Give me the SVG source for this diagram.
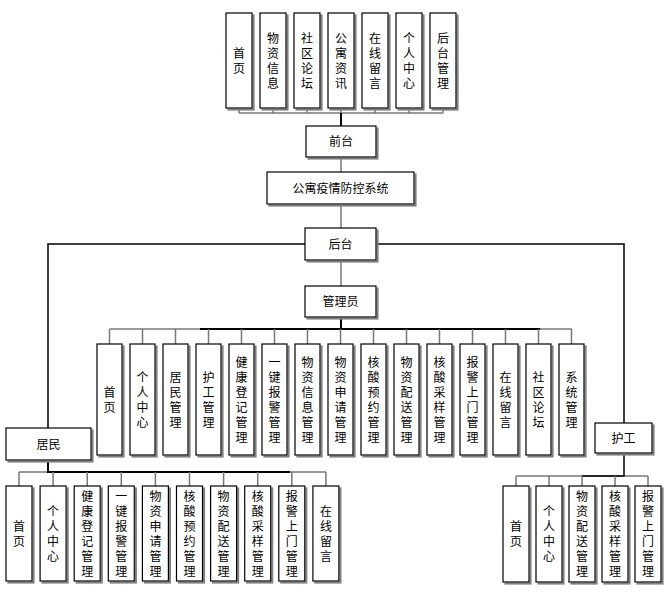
<svg xmlns="http://www.w3.org/2000/svg" width="672" height="593" viewBox="0 0 672 593">
<style>
.box{fill:#fff;stroke:#000;stroke-width:1.2;filter:url(#sh)}
.t{font-family:"Noto Sans CJK SC","Liberation Sans",sans-serif;font-size:12px;fill:#000;text-anchor:middle}
.v{font-family:"Noto Sans CJK SC","Liberation Sans",sans-serif;font-size:12px;fill:#000;text-anchor:middle;writing-mode:vertical-rl;letter-spacing:3px}
.g{stroke:#777;stroke-width:1.5;fill:none}
.k{stroke:#000;stroke-width:2;fill:none}
</style>
<defs>
<filter id="sh" x="-20%" y="-20%" width="150%" height="150%"><feDropShadow dx="2" dy="2" stdDeviation="0" flood-color="#808080"/></filter>
<marker id="ar" viewBox="0 0 10 10" refX="5" refY="1" markerWidth="6" markerHeight="6" orient="auto-start-reverse" markerUnits="userSpaceOnUse"><path d="M1 7 L5 1 L9 7" fill="none" stroke="#666" stroke-width="1.5"/></marker>
</defs>
<rect width="672" height="593" fill="#fff"/>
<g id="connectors">
<path class="g" d="M239 113H443"/>
<path class="k" d="M341 126V113"/>
<path class="g" marker-end="url(#ar)" d="M239 113V108"/>
<path class="g" marker-end="url(#ar)" d="M273 113V108"/>
<path class="g" marker-end="url(#ar)" d="M307 113V108"/>
<path class="g" marker-end="url(#ar)" d="M341 113V108"/>
<path class="g" marker-end="url(#ar)" d="M375 113V108"/>
<path class="g" marker-end="url(#ar)" d="M409 113V108"/>
<path class="g" marker-end="url(#ar)" d="M443 113V108"/>
<path class="g" d="M341 157V172M341 204V228M341 260V286"/>
<path class="k" style="stroke-width:1.5" d="M305 244H48V428M376 244H624V423"/>
<path class="g" d="M109.5 329H571.5"/>
<path class="k" d="M341 317V329M200 329H540"/>
<path class="g" d="M109.5 329V344M142.5 329V344M175.5 329V344M208.5 329V344M241.5 329V344M274.5 329V344M307.5 329V344M340.5 329V344M373.5 329V344M406.5 329V344M439.5 329V344M472.5 329V344M505.5 329V344M538.5 329V344M571.5 329V344"/>
<path class="g" d="M19 472H326"/>
<path class="k" d="M48 460V472H290"/>
<path class="g" d="M19 472V486M53.1 472V486M87.2 472V486M121.3 472V486M155.4 472V486M189.5 472V486M223.6 472V486M257.7 472V486M291.8 472V486M325.9 472V486"/>
<path class="g" d="M516 476H648"/>
<path class="k" style="stroke-width:1.5" d="M624 453V476H582"/>
<path class="g" d="M516 476V486M549 476V486M582 476V486M615 476V486M648 476V486"/>
</g>
<g id="n_shouye"><rect class="box" x="226" y="13" width="26" height="95"/><text class="v" x="239" y="62">首页</text></g>
<g id="n_wuzixinxi"><rect class="box" x="260" y="13" width="26" height="95"/><text class="v" x="273" y="62">物资信息</text></g>
<g id="n_shequluntan"><rect class="box" x="294" y="13" width="26" height="95"/><text class="v" x="307" y="62">社区论坛</text></g>
<g id="n_gongyuzixun"><rect class="box" x="328" y="13" width="26" height="95"/><text class="v" x="341" y="62">公寓资讯</text></g>
<g id="n_zaixianliuyan"><rect class="box" x="362" y="13" width="26" height="95"/><text class="v" x="375" y="62">在线留言</text></g>
<g id="n_gerenzhongxin"><rect class="box" x="396" y="13" width="26" height="95"/><text class="v" x="409" y="62">个人中心</text></g>
<g id="n_houtaiguanli"><rect class="box" x="430" y="13" width="26" height="95"/><text class="v" x="443" y="62">后台管理</text></g>
<g id="n_qiantai"><rect class="box" x="306" y="126" width="70" height="31"/><text class="t" x="341" y="146">前台</text></g>
<g id="n_system"><rect class="box" x="267" y="172" width="147" height="32"/><text class="t" x="340.5" y="192.5">公寓疫情防控系统</text></g>
<g id="n_houtai"><rect class="box" x="305" y="228" width="71" height="32"/><text class="t" x="340.5" y="248.5">后台</text></g>
<g id="n_admin"><rect class="box" x="305" y="286" width="71" height="31"/><text class="t" x="340.5" y="306">管理员</text></g>
<g id="a1"><rect class="box" x="97" y="344" width="25" height="111"/><text class="v" x="109.5" y="401">首页</text></g>
<g id="a2"><rect class="box" x="130" y="344" width="25" height="111"/><text class="v" x="142.5" y="401">个人中心</text></g>
<g id="a3"><rect class="box" x="163" y="344" width="25" height="111"/><text class="v" x="175.5" y="401">居民管理</text></g>
<g id="a4"><rect class="box" x="196" y="344" width="25" height="111"/><text class="v" x="208.5" y="401">护工管理</text></g>
<g id="a5"><rect class="box" x="229" y="344" width="25" height="111"/><text class="v" x="241.5" y="401">健康登记管理</text></g>
<g id="a6"><rect class="box" x="262" y="344" width="25" height="111"/><text class="v" x="274.5" y="401">一键报警管理</text></g>
<g id="a7"><rect class="box" x="295" y="344" width="25" height="111"/><text class="v" x="307.5" y="401">物资信息管理</text></g>
<g id="a8"><rect class="box" x="328" y="344" width="25" height="111"/><text class="v" x="340.5" y="401">物资申请管理</text></g>
<g id="a9"><rect class="box" x="361" y="344" width="25" height="111"/><text class="v" x="373.5" y="401">核酸预约管理</text></g>
<g id="a10"><rect class="box" x="394" y="344" width="25" height="111"/><text class="v" x="406.5" y="401">物资配送管理</text></g>
<g id="a11"><rect class="box" x="427" y="344" width="25" height="111"/><text class="v" x="439.5" y="401">核酸采样管理</text></g>
<g id="a12"><rect class="box" x="460" y="344" width="25" height="111"/><text class="v" x="472.5" y="401">报警上门管理</text></g>
<g id="a13"><rect class="box" x="493" y="344" width="25" height="111"/><text class="v" x="505.5" y="401">在线留言</text></g>
<g id="a14"><rect class="box" x="526" y="344" width="25" height="111"/><text class="v" x="538.5" y="401">社区论坛</text></g>
<g id="a15"><rect class="box" x="559" y="344" width="25" height="111"/><text class="v" x="571.5" y="401">系统管理</text></g>
<g id="n_jumin"><rect class="box" x="6" y="428" width="85" height="32"/><text class="t" x="48.5" y="448.5">居民</text></g>
<g id="n_hugong"><rect class="box" x="595" y="423" width="57" height="30"/><text class="t" x="623.5" y="442.5">护工</text></g>
<g id="r1"><rect class="box" x="6" y="486" width="26" height="95"/><text class="v" x="19" y="535">首页</text></g>
<g id="r2"><rect class="box" x="40.1" y="486" width="26" height="95"/><text class="v" x="53.1" y="535">个人中心</text></g>
<g id="r3"><rect class="box" x="74.2" y="486" width="26" height="95"/><text class="v" x="87.2" y="535">健康登记管理</text></g>
<g id="r4"><rect class="box" x="108.3" y="486" width="26" height="95"/><text class="v" x="121.3" y="535">一键报警管理</text></g>
<g id="r5"><rect class="box" x="142.4" y="486" width="26" height="95"/><text class="v" x="155.4" y="535">物资申请管理</text></g>
<g id="r6"><rect class="box" x="176.5" y="486" width="26" height="95"/><text class="v" x="189.5" y="535">核酸预约管理</text></g>
<g id="r7"><rect class="box" x="210.6" y="486" width="26" height="95"/><text class="v" x="223.6" y="535">物资配送管理</text></g>
<g id="r8"><rect class="box" x="244.7" y="486" width="26" height="95"/><text class="v" x="257.7" y="535">核酸采样管理</text></g>
<g id="r9"><rect class="box" x="278.8" y="486" width="26" height="95"/><text class="v" x="291.8" y="535">报警上门管理</text></g>
<g id="r10"><rect class="box" x="312.9" y="486" width="26" height="95"/><text class="v" x="325.9" y="535">在线留言</text></g>
<g id="h1"><rect class="box" x="503" y="486" width="26" height="96"/><text class="v" x="516" y="535.5">首页</text></g>
<g id="h2"><rect class="box" x="536" y="486" width="26" height="96"/><text class="v" x="549" y="535.5">个人中心</text></g>
<g id="h3"><rect class="box" x="569" y="486" width="26" height="96"/><text class="v" x="582" y="535.5">物资配送管理</text></g>
<g id="h4"><rect class="box" x="602" y="486" width="26" height="96"/><text class="v" x="615" y="535.5">核酸采样管理</text></g>
<g id="h5"><rect class="box" x="635" y="486" width="26" height="96"/><text class="v" x="648" y="535.5">报警上门管理</text></g>
</svg>
